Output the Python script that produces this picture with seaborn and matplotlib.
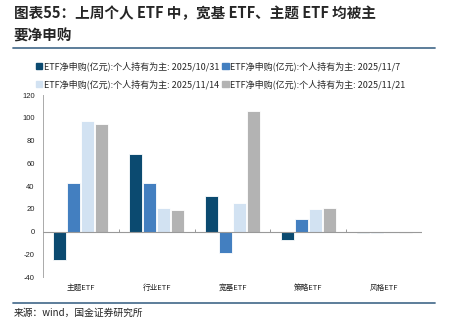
import numpy as np
import pandas as pd
import matplotlib
matplotlib.use("Agg")
import matplotlib.pyplot as plt
import seaborn as sns

categories = ["主题ETF", "行业ETF", "宽基ETF", "策略ETF", "风格ETF"]
series_names = [
    "ETF净申购(亿元):个人持有为主: 2025/10/31",
    "ETF净申购(亿元):个人持有为主: 2025/11/7",
    "ETF净申购(亿元):个人持有为主: 2025/11/14",
    "ETF净申购(亿元):个人持有为主: 2025/11/21",
]
flow_1031 = [-25, 68, 31, -7, -1.5]
flow_1107 = [43, 43, -19, 11, -1.5]
flow_1114 = [97, 21, 25, 20, -1]
flow_1121 = [95, 19, 106, 20.5, -1]
yticks = [-40, -20, 0, 20, 40, 60, 80, 100, 120]
colors = ["#0b4a70", "#437fc0", "#d2e2f2", "#b3b3b3"]

sns.set_theme(style="white")
plt.rcParams["font.family"] = ["Noto Sans CJK SC", "DejaVu Sans"]
plt.rcParams["axes.unicode_minus"] = False

rows = []
for name, vals in zip(series_names, [flow_1031, flow_1107, flow_1114, flow_1121]):
    for cat, v in zip(categories, vals):
        rows.append({"类别": cat, "系列": name, "值": v})
df = pd.DataFrame(rows)

fig = plt.figure(figsize=(4.56, 3.35), dpi=100)
ax = fig.add_axes([0.0943, 0.173, 0.831, 0.543])

sns.barplot(data=df, x="类别", y="值", hue="系列", hue_order=series_names,
            order=categories, palette=colors, saturation=1, width=0.74, gap=0.08,
            edgecolor="white", linewidth=0.6, ax=ax, legend=False)

ax.set_xlim(-0.5, len(categories) - 0.5)
ax.set_ylim(-40, 120)
ax.set_yticks(yticks)
ax.set_yticklabels([str(t) for t in yticks], fontsize=5.5, color="#222222",
                   family=["Liberation Sans", "DejaVu Sans"])
ax.set_xticks(range(len(categories)))
ax.set_xticklabels(categories, fontsize=5.5, color="#222222")
ax.tick_params(axis="x", length=0, pad=5)
ax.tick_params(axis="y", direction="in", length=2.5, width=0.6, color="#999999", pad=6)
ax.set_xlabel("")
ax.set_ylabel("")

for side in ["top", "right", "bottom"]:
    ax.spines[side].set_visible(False)
ax.spines["left"].set_color("#aaaaaa")
ax.spines["left"].set_linewidth(0.7)

# zero baseline with upward group separator ticks
ax.axhline(0, color="#999999", linewidth=0.8, zorder=3)
bounds = np.arange(len(categories)) + 0.5
ax.vlines(bounds, 0, 2.6, color="#999999", linewidth=0.7, zorder=3)

# legend in two rows above the plot, filled row by row
order = [0, 2, 1, 3]
handles = [plt.Rectangle((0, 0), 1, 1, color=colors[i]) for i in order]
labels = [series_names[i] for i in order]
fig.legend(handles, labels, loc="upper left", bbox_to_anchor=(0.078, 0.816),
           ncol=2, frameon=False, fontsize=6.5, handlelength=0.7, handleheight=0.7,
           handletextpad=0.2, columnspacing=0.35, labelspacing=0.85,
           borderaxespad=0, borderpad=0)

# header and footer
fig.text(0.03, 0.985, "图表55：上周个人 ETF 中，宽基 ETF、主题 ETF 均被主",
         fontsize=10.5, fontweight="bold", fontstyle="italic", va="top", ha="left")
fig.text(0.03, 0.918, "要净申购", fontsize=10.5, fontweight="bold",
         fontstyle="italic", va="top", ha="left")
fig.add_artist(plt.Line2D([0.028, 0.955], [0.857, 0.857], color="#4f7392", linewidth=1.3))
fig.add_artist(plt.Line2D([0.028, 0.955], [0.096, 0.096], color="#4f7392", linewidth=1.3))
fig.text(0.03, 0.065, "来源：wind，国金证券研究所", fontsize=7, va="center", ha="left",
         color="#222222")

fig.savefig("out.png", dpi=100)
